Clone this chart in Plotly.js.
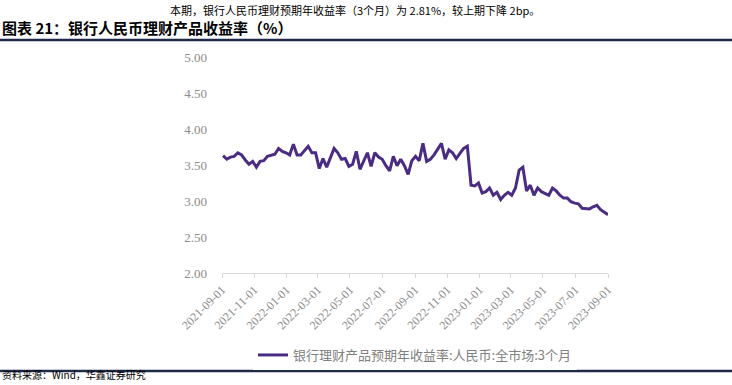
<!DOCTYPE html>
<html>
<head>
<meta charset="utf-8">
<script src="https://cdn.plot.ly/plotly-3.0.1.min.js"></script>
<style>html,body{margin:0;padding:0;background:#fff;}#chart{width:732px;height:385px;}</style>
</head>
<body>
<div id="chart"></div>
<script>
const dates = [
"2021-09-03","2021-09-10","2021-09-17","2021-09-24","2021-10-01","2021-10-08","2021-10-15","2021-10-22","2021-10-29",
"2021-11-05","2021-11-12","2021-11-19","2021-11-26","2021-12-03","2021-12-10","2021-12-17","2021-12-24","2021-12-31",
"2022-01-07","2022-01-14","2022-01-21","2022-01-28","2022-02-04","2022-02-11","2022-02-18","2022-02-25",
"2022-03-04","2022-03-11","2022-03-18","2022-03-25","2022-04-01","2022-04-08","2022-04-15","2022-04-22","2022-04-29",
"2022-05-06","2022-05-13","2022-05-20","2022-05-27","2022-06-03","2022-06-10","2022-06-17","2022-06-24",
"2022-07-01","2022-07-08","2022-07-15","2022-07-22","2022-07-29","2022-08-05","2022-08-12","2022-08-19","2022-08-26",
"2022-09-02","2022-09-09","2022-09-16","2022-09-23","2022-09-30","2022-10-07","2022-10-14","2022-10-21","2022-10-28",
"2022-11-04","2022-11-11","2022-11-18","2022-11-25","2022-12-02","2022-12-09","2022-12-16","2022-12-23","2022-12-30",
"2023-01-06","2023-01-13","2023-01-20","2023-01-27","2023-02-03","2023-02-10","2023-02-17","2023-02-24",
"2023-03-03","2023-03-10","2023-03-17","2023-03-24","2023-03-31","2023-04-07","2023-04-14","2023-04-21","2023-04-28",
"2023-05-05","2023-05-12","2023-05-19","2023-05-26","2023-06-02","2023-06-09","2023-06-16","2023-06-23","2023-06-30",
"2023-07-07","2023-07-14","2023-07-21","2023-07-28","2023-08-04","2023-08-11","2023-08-18","2023-08-25","2023-09-01"
];
const yieldRMB = [
3.63,3.58,3.61,3.62,3.67,3.64,3.57,3.51,3.55,3.47,3.55,3.56,3.62,3.64,3.65,3.73,3.69,3.67,3.64,3.79,
3.64,3.64,3.70,3.76,3.67,3.67,3.45,3.59,3.47,3.61,3.73,3.67,3.58,3.59,3.48,3.51,3.69,3.44,3.56,3.67,
3.48,3.67,3.61,3.58,3.49,3.42,3.62,3.49,3.58,3.49,3.37,3.56,3.62,3.56,3.80,3.55,3.58,3.64,3.72,3.80,
3.58,3.71,3.67,3.59,3.66,3.73,3.76,3.22,3.21,3.25,3.11,3.13,3.18,3.08,3.12,3.02,3.08,3.12,3.08,3.18,
3.43,3.47,3.14,3.22,3.08,3.18,3.13,3.11,3.08,3.18,3.14,3.08,3.04,3.04,2.99,2.97,2.96,2.90,2.89,2.89,
2.92,2.94,2.88,2.84,2.81
];
const xTicks = ["2021-09-01","2021-11-01","2022-01-01","2022-03-01","2022-05-01","2022-07-01","2022-09-01",
"2022-11-01","2023-01-01","2023-03-01","2023-05-01","2023-07-01","2023-09-01"];
const yTicks = [2.0,2.5,3.0,3.5,4.0,4.5,5.0];
const seriesName = "银行理财产品预期年收益率:人民币:全市场:3个月";
const titleText = "图表 21：银行人民币理财产品收益率（%）";
const topText = "本期，银行人民币理财预期年收益率（3个月）为 2.81%，较上期下降 2bp。";
const sourceText = "资料来源：Wind，华鑫证券研究";

const W = 732, H = 385, L = 222, R = 124, T = 57, B = 112;
const pw = W - L - R, ph = H - T - B;
const px = v => (v - L) / pw;
const py = v => (H - B - v) / ph;

const trace = {
  x: dates, y: yieldRMB, type: 'scatter', mode: 'lines', name: seriesName,
  line: {color: '#4B2C83', width: 3}
};
const layout = {
  width: W, height: H,
  margin: {l: L, r: R, t: T, b: B},
  paper_bgcolor: '#fff', plot_bgcolor: '#fff',
  showlegend: true,
  legend: {orientation: 'h', x: 0.5, xanchor: 'center', y: py(355), yanchor: 'middle',
    font: {family: 'Noto Sans CJK SC', size: 13, color: '#808080'}, itemwidth: 30},
  xaxis: {
    type: 'date', range: ['2021-09-01', '2023-09-01'],
    tickvals: xTicks, ticktext: xTicks, tickangle: -45,
    showgrid: false, zeroline: false, showline: true, linecolor: '#d9d9d9', linewidth: 1,
    ticks: 'outside', ticklen: 4, tickcolor: '#d9d9d9',
    tickfont: {family: 'Liberation Serif', size: 12, color: '#8c8c8c'}
  },
  yaxis: {
    range: [2, 5], tickvals: yTicks, tickformat: '.2f',
    showgrid: false, zeroline: false, showline: false, ticks: '',
    ticklabelstandoff: 14,
    tickfont: {family: 'Liberation Serif', size: 13, color: '#8c8c8c'}
  },
  shapes: [
    {type: 'line', xref: 'paper', yref: 'paper', x0: px(0), x1: px(W), y0: py(40), y1: py(40),
     line: {color: '#1f2a48', width: 2.5}},
    {type: 'line', xref: 'paper', yref: 'paper', x0: px(0), x1: px(W), y0: py(371), y1: py(371),
     line: {color: '#1f2a48', width: 2.5}}
  ],
  annotations: [
    {text: titleText, xref: 'paper', yref: 'paper', x: px(0), y: py(27), xanchor: 'left', yanchor: 'middle',
     showarrow: false, font: {family: 'Noto Sans CJK SC', size: 15, color: '#000', weight: 'bold'}},
    {text: topText, xref: 'paper', yref: 'paper', x: px(168), y: py(0), xanchor: 'left', yanchor: 'top',
     showarrow: false, font: {family: 'Noto Sans CJK SC', size: 11, color: '#000'}},
    {text: sourceText, xref: 'paper', yref: 'paper', x: px(0), y: py(384), xanchor: 'left', yanchor: 'bottom',
     showarrow: false, font: {family: 'Noto Sans CJK SC', size: 10, color: '#000'}}
  ]
};
Plotly.newPlot('chart', [trace], layout, {displayModeBar: false, staticPlot: true});
</script>
</body>
</html>
